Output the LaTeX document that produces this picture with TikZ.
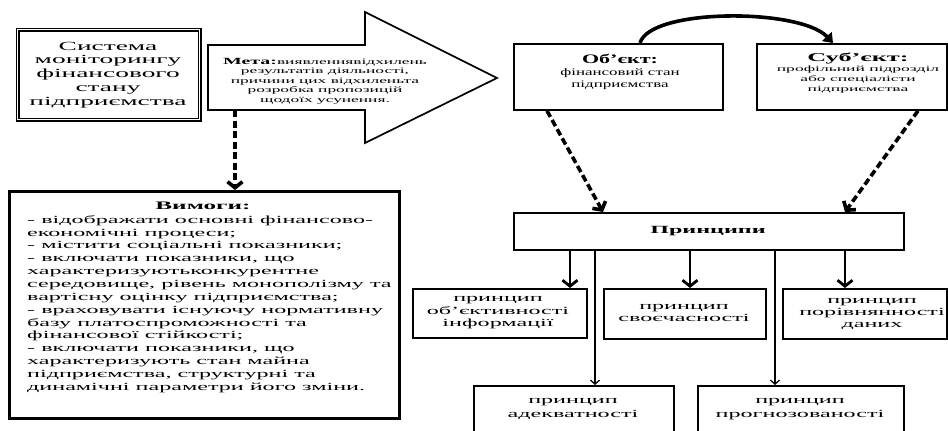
\documentclass[tikz,border=0pt]{standalone}
\usepackage{fontspec}
\setmainfont{Liberation Serif}[FakeStretch=2.2]
\newfontfamily\famsys{Liberation Serif}[FakeStretch=2.2]
\newfontfamily\fammeta{Liberation Serif}[FakeStretch=2.1]
\newfontfamily\famobj{Liberation Serif}[FakeStretch=1.7]
\newfontfamily\famsub{Liberation Serif}[FakeStretch=2.2]
\newfontfamily\famprin{Liberation Serif}[FakeStretch=2.2]
\usetikzlibrary{arrows.meta}
\begin{document}
\begin{tikzpicture}[x=1bp,y=-1bp,
  boxline/.style={draw=black, line width=1.8bp, inner sep=0pt, anchor=north west},
  heavybox/.style={draw=black, line width=2.6bp, inner sep=0pt, anchor=north west},
  dblbox/.style={draw=black, double=white, double distance=1.2bp, line width=1.3bp, inner sep=0pt, anchor=north west},
  txt/.style={inner sep=0pt, align=center},
  dasharr/.style={line width=3.6bp, dash pattern=on 7bp off 3.5bp, -{Straight Barb[length=6bp,width=15bp]}},
  thickarr/.style={line width=2.8bp, -{Straight Barb[length=6bp,width=15bp]}},
  thinarr/.style={line width=1.3bp, -{Straight Barb[length=4bp,width=9bp]}},
  curvearr/.style={line width=3.6bp, -{Triangle[length=9bp,width=13bp]}}
]
\fill[white] (0,0) rectangle (948,430);
\clip (0,0) rectangle (948,430);

% left system box
\node[dblbox, minimum width=182bp, minimum height=90bp] (sys) at (17,29) {};
\node[txt, font=\famsys\fontsize{12.5}{13.9}\selectfont] (systxt) at (108,75)
  {Система\\моніторингу\\фінансового\\стану\\підприємства};

% goal arrow shape
\coordinate (ma) at (208,45);
\coordinate (mb) at (365,45);
\coordinate (mc) at (365,12);
\coordinate (md) at (497,78);
\coordinate (me) at (365,143);
\coordinate (mf) at (365,110);
\coordinate (mg) at (208,110);
\draw[line width=1.7bp, line join=miter] (ma) -- (mb) -- (mc) -- (md) -- (me) -- (mf) -- (mg) -- cycle;
\node[txt, font=\fammeta\fontsize{8.3}{9.6}\selectfont] (meta) at (325,81)
  {{\bfseries\fontsize{9.5}{9.6}\selectfont Мета:}виявленнявідхилень\\результатів діяльності,\\причини цих відхиленьта\\розробка пропозицій\\щодоїх усунення.};
\coordinate (metab) at (235,110);

% requirements box
\node[heavybox, minimum width=390bp, minimum height=227bp] (vym) at (8,190) {};
\node[txt, font=\bfseries\fontsize{11.5}{12.9}\selectfont] (vymhead) at (203,206) {Вимоги:};
\node[inner sep=0pt, align=left, anchor=west, font=\fontsize{11}{12.9}\selectfont] (vymtxt) at (27,304)
  {- відображати основні фінансово-\\
   економічні процеси;\\
   - містити соціальні показники;\\
   - включати показники, що\\
   характеризуютьконкурентне\\
   середовище, рівень монополізму та\\
   вартісну оцінку підприємства;\\
   - враховувати існуючу нормативну\\
   базу платоспроможності та\\
   фінансової стійкості;\\
   - включати показники, що\\
   характеризують стан майна\\
   підприємства, структурні та\\
   динамічні параметри його зміни.};

% object / subject
\node[boxline, minimum width=209bp, minimum height=66bp] (obj) at (513,43) {};
\node[txt, font=\famobj\fontsize{10}{12}\selectfont] (objtxt) at (620,72)
  {{\bfseries\fontsize{13}{12}\selectfont Об’єкт:}\\фінансовий стан\\підприємства};
\node[boxline, minimum width=190bp, minimum height=66bp] (subj) at (756,43) {};
\node[txt, font=\famsub\fontsize{8}{10}\selectfont] (subjtxt) at (858,73)
  {{\bfseries\fontsize{12}{10}\selectfont Суб’єкт:}\\профільний підрозділ\\або спеціалісти\\підприємства};

% principles
\node[boxline, minimum width=390bp, minimum height=37bp] (princ) at (513,212) {};
\node[txt, font=\famprin\bfseries\fontsize{11}{12}\selectfont] (princtxt) at (708,231) {Принципи};

\node[boxline, minimum width=174bp, minimum height=49bp] (p1) at (412,288) {};
\node[txt, font=\famprin\fontsize{11}{12.5}\selectfont] (p1txt) at (498,313) {принцип\\об’єктивності\\інформації};
\node[boxline, minimum width=162bp, minimum height=50bp] (p2) at (603,288) {};
\node[txt, font=\famprin\fontsize{11}{12.5}\selectfont] (p2txt) at (684,313) {принцип\\своєчасності};
\node[boxline, minimum width=164bp, minimum height=50bp] (p3) at (782,288) {};
\node[txt, font=\famprin\fontsize{11}{12.5}\selectfont] (p3txt) at (872,314) {принцип\\порівнянності\\даних};
\node[boxline, minimum width=200bp, minimum height=60bp] (p4) at (473,385) {};
\node[txt, font=\famprin\fontsize{11}{14.5}\selectfont] (p4txt) at (573,409) {принцип\\адекватності};
\node[boxline, minimum width=206bp, minimum height=60bp] (p5) at (697,385) {};
\node[txt, font=\famprin\fontsize{11}{14.5}\selectfont] (p5txt) at (800,409) {принцип\\прогнозованості};

% x positions for connectors
\coordinate (xa) at (570,0);
\coordinate (xb) at (595,0);
\coordinate (xc) at (690,0);
\coordinate (xd) at (775,0);
\coordinate (xe) at (845,0);
\coordinate (xo) at (547,0);
\coordinate (xo2) at (603,0);
\coordinate (xs) at (918,0);
\coordinate (xm) at (235,0);
\coordinate (xc1) at (640,0);
\coordinate (xc2) at (833,0);

% connectors
\draw[dasharr] (metab) -- (vym.north -| xm);
\draw[dasharr] (obj.south -| xo) -- (princ.north -| xo2);
\draw[dasharr] (subj.south -| xs) -- (princ.north -| xe);
\draw[curvearr] (obj.north -| xc1) .. controls (650,8) and (800,8) .. (subj.north -| xc2);
\draw[thickarr] (princ.south -| xa) -- (p1.north -| xa);
\draw[thickarr] (princ.south -| xc) -- (p2.north -| xc);
\draw[thickarr] (princ.south -| xe) -- (p3.north -| xe);
\draw[thinarr] (princ.south -| xb) -- (p4.north -| xb);
\draw[thinarr] (princ.south -| xd) -- (p5.north -| xd);
\end{tikzpicture}
\end{document}
